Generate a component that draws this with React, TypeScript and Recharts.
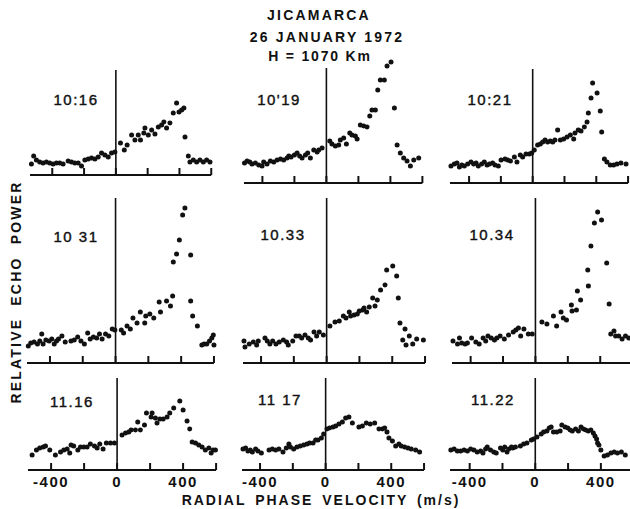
import React from "react";
import { ScatterChart, Scatter, XAxis, YAxis, ReferenceLine } from "recharts";

// velocity (m/s) and relative echo power (arbitrary units)
const V_1016 = [-531, -517, -500, -479, -458, -437, -416, -395, -374, -353, -332, -300, -279, -258, -237, -216, -195, -174, -153, -132, -111, -90, -69, -48, -27, -6, 29, 53, 71, 99, 120, 141, 155, 176, 183, 204, 225, 246, 267, 288, 302, 319, 340, 361, 382, 397, 414, 428, 435, 456, 466, 487, 508, 529, 550, 571, 592];
const P_1016 = [1.1, 1.9, 1.5, 1.3, 1.2, 1.3, 1.2, 1.1, 1.2, 1.2, 1.1, 1.4, 1.3, 1.2, 1.2, 0.9, 1.5, 1.6, 1.7, 1.6, 1.8, 2.2, 2.0, 1.8, 2.2, 2.3, 3.2, 2.5, 3.0, 4.0, 3.5, 4.0, 3.5, 4.2, 4.7, 4.0, 4.5, 4.1, 4.8, 5.0, 5.3, 4.7, 5.2, 6.2, 7.2, 6.3, 6.5, 6.7, 3.8, 1.9, 1.3, 1.5, 1.3, 1.5, 1.3, 1.5, 1.3];

const V_1019 = [-512, -496, -479, -465, -444, -423, -402, -392, -371, -350, -329, -308, -287, -267, -246, -235, -221, -200, -183, -167, -152, -131, -117, -100, -79, -58, -48, -27, 21, 35, 56, 77, 87, 108, 125, 146, 160, 181, 192, 212, 233, 254, 271, 285, 306, 321, 337, 362, 379, 404, 425, 442, 462, 483, 504, 525, 546, 577];
const P_1019 = [2.0, 2.2, 2.1, 1.9, 2.0, 1.8, 1.7, 2.1, 1.9, 2.2, 2.1, 2.3, 2.4, 2.3, 2.5, 2.7, 2.6, 2.8, 3.0, 2.7, 2.5, 2.8, 3.0, 2.5, 3.3, 3.1, 3.3, 3.5, 4.2, 3.9, 3.7, 3.8, 4.3, 4.5, 3.9, 5.0, 4.8, 4.7, 4.4, 5.8, 5.7, 5.6, 6.7, 7.3, 7.3, 9.3, 10.3, 10.3, 11.7, 12.1, 7.5, 3.8, 3.0, 2.5, 2.2, 1.7, 2.3, 2.5];

const V_1021 = [-514, -493, -476, -461, -446, -430, -409, -388, -371, -356, -342, -321, -304, -287, -272, -252, -237, -216, -199, -174, -157, -140, -115, -99, -78, -63, -42, -21, -6, 10, 31, 48, 63, 78, 94, 111, 126, 140, 157, 174, 195, 216, 237, 258, 266, 287, 304, 325, 342, 350, 367, 377, 405, 425, 434, 451, 467, 488, 509, 530, 555, 587];
const P_1021 = [1.7, 1.9, 2.0, 1.6, 1.8, 1.7, 1.9, 2.1, 1.9, 2.0, 1.7, 1.9, 2.1, 1.8, 1.9, 2.0, 1.8, 1.7, 2.3, 2.4, 2.3, 2.2, 2.6, 2.1, 2.8, 2.6, 2.9, 2.9, 3.0, 3.3, 3.8, 3.9, 4.1, 4.3, 4.1, 4.2, 4.1, 4.3, 5.3, 4.3, 4.4, 4.6, 4.8, 4.4, 5.0, 5.3, 5.2, 5.6, 6.1, 7.0, 8.5, 10.0, 9.0, 7.2, 5.1, 2.4, 2.1, 1.8, 1.8, 1.9, 2.0, 1.9];

const V_1031 = [-532, -517, -497, -476, -462, -450, -442, -425, -405, -389, -374, -360, -348, -327, -307, -272, -252, -231, -211, -190, -170, -155, -135, -115, -98, -82, -61, -41, -20, -4, 35, 49, 70, 90, 106, 131, 151, 178, 184, 209, 233, 266, 274, 311, 335, 348, 352, 372, 389, 409, 423, 458, 458, 470, 499, 526, 540, 556, 573, 587, 596, 600];
const P_1031 = [1.7, 2.0, 2.1, 1.9, 2.2, 2.9, 1.9, 2.3, 2.2, 2.4, 1.9, 2.2, 2.4, 2.7, 2.1, 2.2, 2.3, 2.6, 2.2, 1.9, 3.0, 2.4, 2.6, 2.5, 2.9, 2.4, 2.9, 2.7, 3.4, 3.3, 3.3, 3.0, 3.7, 3.4, 4.5, 4.0, 5.1, 4.0, 4.7, 4.9, 4.5, 6.1, 5.1, 6.2, 5.7, 6.7, 10.1, 10.9, 12.3, 14.8, 15.5, 10.8, 6.2, 4.7, 3.7, 1.8, 1.9, 1.9, 2.2, 2.5, 2.8, 1.8];

const V_1033 = [-504, -498, -472, -447, -427, -417, -376, -362, -346, -329, -309, -289, -264, -244, -234, -207, -187, -167, -152, -132, -112, -98, -77, -61, -45, -20, 20, 51, 77, 102, 118, 138, 146, 167, 187, 199, 220, 228, 244, 260, 281, 295, 309, 329, 356, 366, 403, 427, 437, 447, 478, 464, 484, 504, 525, 549, 590];
const P_1033 = [2.2, 1.6, 1.9, 2.1, 1.8, 2.2, 2.5, 2.2, 1.9, 2.2, 1.9, 2.1, 2.3, 2.1, 1.8, 2.2, 2.7, 2.7, 2.5, 2.8, 2.5, 2.3, 3.1, 2.7, 3.1, 2.8, 3.7, 4.1, 4.2, 4.7, 4.5, 5.1, 4.7, 4.8, 4.9, 5.2, 5.3, 5.5, 5.1, 5.6, 6.5, 5.7, 6.3, 7.3, 7.8, 9.3, 9.7, 8.7, 6.5, 4.0, 3.4, 2.3, 1.8, 2.7, 1.9, 2.4, 2.3];

const V_1034 = [-509, -481, -469, -455, -434, -420, -394, -368, -347, -323, -307, -293, -273, -253, -238, -218, -192, -166, -137, -121, -105, -91, -71, -44, -20, 40, 71, 111, 131, 158, 172, 192, 222, 226, 253, 259, 279, 323, 327, 343, 364, 384, 408, 440, 455, 465, 485, 495, 515, 535, 556, 576];
const P_1034 = [2.2, 1.9, 2.5, 2.0, 1.9, 2.0, 2.5, 2.1, 1.9, 2.5, 2.2, 2.7, 2.5, 2.3, 2.5, 2.7, 2.4, 2.8, 3.1, 3.3, 3.5, 2.7, 3.4, 2.9, 2.9, 4.1, 3.9, 4.7, 3.7, 5.1, 4.5, 4.3, 5.8, 5.2, 5.3, 7.2, 6.3, 9.3, 7.7, 11.7, 14.0, 15.1, 14.3, 10.0, 5.9, 2.9, 3.2, 2.7, 2.7, 2.4, 2.7, 2.5];

const V_1116 = [-515, -489, -469, -448, -434, -408, -374, -343, -323, -303, -287, -279, -263, -238, -222, -202, -182, -162, -137, -121, -105, -85, -65, -40, -16, 30, 51, 71, 85, 111, 125, 141, 166, 178, 206, 212, 232, 242, 259, 279, 303, 319, 343, 380, 400, 424, 440, 455, 475, 495, 515, 535, 556, 570, 582, 596];
const P_1116 = [1.5, 2.0, 2.2, 2.3, 2.4, 2.0, 1.5, 1.8, 2.0, 2.1, 1.7, 2.5, 2.4, 2.0, 2.3, 2.3, 2.3, 2.6, 2.4, 2.2, 2.6, 2.1, 2.7, 2.7, 2.7, 3.5, 3.7, 3.8, 4.0, 4.0, 4.8, 4.0, 4.5, 5.7, 5.3, 5.7, 5.2, 4.7, 5.1, 5.1, 5.3, 5.7, 6.2, 6.9, 6.0, 4.9, 4.1, 2.8, 2.7, 2.5, 2.3, 2.0, 2.2, 1.7, 2.0, 2.0];

const V_1117 = [-504, -488, -474, -459, -447, -427, -413, -392, -345, -325, -305, -285, -260, -240, -224, -215, -195, -175, -155, -134, -114, -98, -77, -61, -47, -26, -12, 8, 24, 45, 61, 81, 102, 122, 142, 163, 203, 224, 248, 272, 299, 325, 346, 360, 374, 386, 407, 427, 447, 461, 482, 502, 522, 549, 573];
const P_1117 = [2.1, 2.2, 1.9, 2.0, 1.8, 2.1, 1.9, 1.7, 2.0, 2.1, 2.0, 2.1, 1.8, 2.2, 2.6, 2.3, 2.1, 2.3, 2.4, 2.5, 2.6, 2.7, 2.7, 3.0, 3.0, 3.2, 3.6, 4.1, 4.2, 4.3, 4.4, 4.6, 4.8, 5.2, 5.3, 4.7, 4.3, 4.4, 4.7, 4.6, 4.7, 4.1, 4.1, 4.2, 3.8, 3.2, 2.9, 2.4, 2.6, 2.4, 2.3, 2.2, 2.1, 2.0, 1.8];

const V_1122 = [-515, -495, -475, -455, -434, -414, -394, -374, -354, -333, -319, -303, -293, -273, -253, -238, -212, -198, -186, -172, -162, -145, -137, -121, -91, -71, -51, -24, -10, 10, 36, 51, 71, 85, 97, 111, 131, 152, 162, 182, 198, 212, 226, 246, 263, 279, 293, 307, 323, 339, 354, 364, 374, 380, 388, 400, 420, 440, 461, 481, 501, 525, 549];
const P_1122 = [2.0, 2.1, 1.9, 1.9, 2.0, 1.9, 2.1, 2.0, 1.8, 1.9, 1.7, 2.1, 2.3, 2.0, 1.8, 1.7, 2.2, 2.0, 2.3, 1.8, 2.1, 2.3, 2.2, 2.3, 2.4, 2.6, 2.7, 3.0, 3.1, 3.3, 3.6, 3.8, 3.9, 4.2, 4.3, 3.8, 3.8, 3.9, 4.5, 4.3, 4.2, 4.0, 3.9, 4.1, 3.9, 4.3, 4.1, 4.0, 3.9, 4.0, 3.7, 3.4, 3.1, 2.7, 2.5, 2.0, 1.4, 1.5, 1.7, 1.8, 1.7, 1.8, 1.5];

const TICKS = [-400, -200, 0, 200, 400, 600];
const LABELED_TICKS = [-400, 0, 400];
const X_MAX = 600;
const PX_PER_UNIT = 10; // one power unit = 10px in every panel

const FONT = "'Liberation Sans', Arial, sans-serif";
const INK = "#111";

// layout of each panel on the page (px), plus the data it draws
const PANELS = [
  { label: "10:16", v: V_1016, p: P_1016, x0: 116, slope: 0.159, base: 175, top: 55, xMin: -540, vTop: 10.5, lx: 76, ly: 105, ticks: false },
  { label: "10'19", v: V_1019, p: P_1019, x0: 326, slope: 0.16, base: 183, top: 55, xMin: -515, vTop: 11.5, lx: 279, ly: 105, ticks: false },
  { label: "10:21", v: V_1021, p: P_1021, x0: 533, slope: 0.159, base: 183, top: 55, xMin: -520, vTop: 11.4, lx: 490, ly: 105, ticks: false },
  { label: "10 31", v: V_1031, p: P_1031, x0: 116, slope: 0.164, base: 363, top: 190, xMin: -540, vTop: 16.5, lx: 76, ly: 242, ticks: false },
  { label: "10.33", v: V_1033, p: P_1033, x0: 326.5, slope: 0.164, base: 363, top: 190, xMin: -510, vTop: 16.5, lx: 283, ly: 240, ticks: false },
  { label: "10.34", v: V_1034, p: P_1034, x0: 535, slope: 0.162, base: 363, top: 190, xMin: -515, vTop: 16.5, lx: 492, ly: 240, ticks: false },
  { label: "11.16", v: V_1116, p: P_1116, x0: 117, slope: 0.165, base: 470, top: 372, xMin: -540, vTop: 9.2, lx: 72, ly: 407, ticks: true },
  { label: "11 17", v: V_1117, p: P_1117, x0: 326, slope: 0.164, base: 470, top: 372, xMin: -510, vTop: 9.2, lx: 280, ly: 405, ticks: true },
  { label: "11.22", v: V_1122, p: P_1122, x0: 535, slope: 0.164, base: 470, top: 372, xMin: -520, vTop: 9.2, lx: 493, ly: 405, ticks: true },
];

function makeTick(showLabels: boolean) {
  return (props: any) => {
    const { x, y, payload } = props;
    const v = payload.value;
    return (
      <g>
        <line x1={x} x2={x} y1={y} y2={y - 7} stroke={INK} strokeWidth={2} />
        {showLabels && LABELED_TICKS.includes(v) && (
          <text x={x} y={y + 17} textAnchor="middle" fontFamily={FONT} fontWeight="bold" fontSize={15} letterSpacing={1.5} fill={INK}>
            {String(v)}
          </text>
        )}
      </g>
    );
  };
}

const dot = (props: any) => <circle cx={props.cx} cy={props.cy} r={2.5} fill={INK} />;

function Panel({ cfg }: { cfg: (typeof PANELS)[number] }) {
  const pad = 6;
  const axisH = 24;
  const plotW = (X_MAX - cfg.xMin) * cfg.slope;
  const plotH = cfg.base - cfg.top;
  const left = cfg.x0 + cfg.xMin * cfg.slope;
  const data = cfg.v.map((v, i) => ({ v, p: cfg.p[i] }));
  return (
    <div style={{ position: "absolute", left: left - pad, top: cfg.top - pad }}>
      <ScatterChart width={plotW + pad * 2} height={plotH + pad + axisH} margin={{ top: pad, right: pad, bottom: 0, left: pad }}>
        <XAxis
          type="number"
          dataKey="v"
          domain={[cfg.xMin, X_MAX]}
          ticks={TICKS}
          interval={0}
          height={axisH}
          axisLine={{ stroke: INK, strokeWidth: 2 }}
          tickLine={false}
          tickSize={0}
          tickMargin={0}
          tick={makeTick(cfg.ticks)}
        />
        <YAxis type="number" dataKey="p" domain={[0, plotH / PX_PER_UNIT]} hide />
        <ReferenceLine segment={[{ x: 0, y: 0 }, { x: 0, y: cfg.vTop }]} stroke={INK} strokeWidth={1.6} />
        <Scatter data={data} shape={dot} isAnimationActive={false} />
      </ScatterChart>
    </div>
  );
}

export default function App() {
  const title = { fontFamily: FONT, fontWeight: "bold" as const, fontSize: 14, letterSpacing: 2.2, fill: INK };
  return (
    <div style={{ position: "absolute", left: 0, top: 0, width: 630, height: 509, background: "#fff", overflow: "hidden" }}>
      {PANELS.map((cfg) => (
        <Panel key={cfg.label} cfg={cfg} />
      ))}
      <svg width={630} height={509} style={{ position: "absolute", left: 0, top: 0, pointerEvents: "none" }}>
        <text x={319} y={20} textAnchor="middle" {...title}>JICAMARCA</text>
        <text x={327} y={42} textAnchor="middle" {...title}>26 JANUARY 1972</text>
        <text x={320} y={61} textAnchor="middle" {...title} letterSpacing={1.8}>H = 1070 Km</text>
        {PANELS.map((cfg) => (
          <text key={cfg.label} x={cfg.lx} y={cfg.ly} textAnchor="middle" fontFamily={FONT} fontSize={15} letterSpacing={1.5} fill={INK} stroke={INK} strokeWidth={0.4}>
            {cfg.label}
          </text>
        ))}
        <text x={321} y={505} textAnchor="middle" fontFamily={FONT} fontWeight="bold" fontSize={14} letterSpacing={2} wordSpacing={3} fill={INK}>
          RADIAL PHASE VELOCITY (m/s)
        </text>
        <text transform="translate(21,292) rotate(-90)" textAnchor="middle" fontFamily={FONT} fontWeight="bold" fontSize={14} letterSpacing={2.2} wordSpacing={6} fill={INK}>
          RELATIVE ECHO POWER
        </text>
      </svg>
    </div>
  );
}
